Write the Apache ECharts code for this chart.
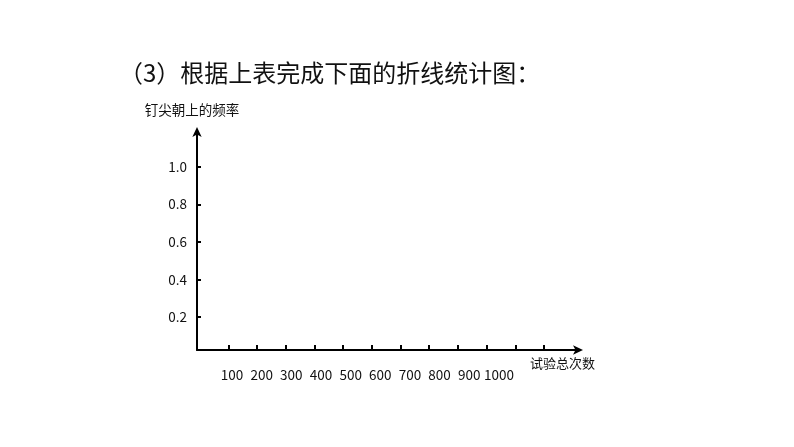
<!DOCTYPE html>
<html>
<head>
<meta charset="utf-8">
<script src="https://cdn.jsdelivr.net/npm/echarts@6/dist/echarts.min.js"></script>
<style>
html,body{margin:0;padding:0;background:#fff;}
#chart{width:794px;height:447px;}
</style>
</head>
<body>
<div id="chart"></div>
<script>
const titleText = '（3）根据上表完成下面的折线统计图：';
const yName = '钉尖朝上的频率';
const xName = '试验总次数';
const xTickValues = [100, 200, 300, 400, 500, 600, 700, 800, 900, 1000, 1100, 1200];
const xLabelValues = [100, 200, 300, 400, 500, 600, 700, 800, 900, 1000];
const yTickValues = [0.2, 0.4, 0.6, 0.8, 1.0];
const frequencies = []; // empty in the reference (to be filled in)

const font = '"Noto Sans CJK SC", "Noto Sans", sans-serif';
const chart = echarts.init(document.getElementById('chart'), null, {renderer: 'canvas'});
chart.setOption({
  animation: false,
  backgroundColor: '#fff',
  title: {
    text: titleText,
    left: 114,
    top: 56,
    textStyle: {fontFamily: font, fontSize: 24, fontWeight: 'normal', color: '#111'}
  },
  grid: {left: 197, right: 215, top: 131, bottom: 97, containLabel: false},
  xAxis: [{
    type: 'value',
    min: -9,
    max: 1322,
    name: xName,
    nameLocation: 'end',
    nameGap: -49,
    nameTextStyle: {fontFamily: font, fontSize: 13, color: '#111', align: 'left', verticalAlign: 'top', padding: [7, 0, 0, 0]},
    axisLine: {show: true, onZero: false, lineStyle: {color: '#000', width: 2}, symbol: ['none', 'arrow'], symbolSize: [7, 10], symbolOffset: [0, 4]},
    axisTick: {show: true, inside: true, length: 5, lineStyle: {color: '#000', width: 2}, customValues: xTickValues},
    axisLabel: {show: false},
    splitLine: {show: false}
  }, {
    // label row of the hand-drawn chart: slightly wider spacing than the ticks
    type: 'value',
    position: 'bottom',
    min: -18,
    max: 1270,
    axisLine: {show: false},
    axisTick: {show: false},
    axisLabel: {show: true, margin: 18, fontFamily: font, fontSize: 13.5, color: '#111', customValues: xLabelValues,
      formatter: v => String(v)},
    splitLine: {show: false}
  }],
  yAxis: {
    type: 'value',
    min: 0.025,
    max: 1.19,
    name: yName,
    nameLocation: 'end',
    nameGap: 14,
    nameTextStyle: {fontFamily: font, fontSize: 13.5, color: '#111', padding: [0, 10, 0, 0]},
    axisLine: {show: true, onZero: false, lineStyle: {color: '#000', width: 2}, symbol: ['none', 'arrow'], symbolSize: [7, 10], symbolOffset: [0, 4]},
    axisTick: {show: true, inside: true, length: 4, lineStyle: {color: '#000', width: 2}, customValues: yTickValues},
    axisLabel: {show: true, margin: 10, fontFamily: font, fontSize: 13.5, color: '#111', customValues: yTickValues,
      formatter: v => Number(v).toFixed(1)},
    splitLine: {show: false}
  },
  series: [{
    type: 'line',
    xAxisIndex: 0,
    data: frequencies,
    symbol: 'circle',
    lineStyle: {color: '#000'}
  }]
});
</script>
</body>
</html>
